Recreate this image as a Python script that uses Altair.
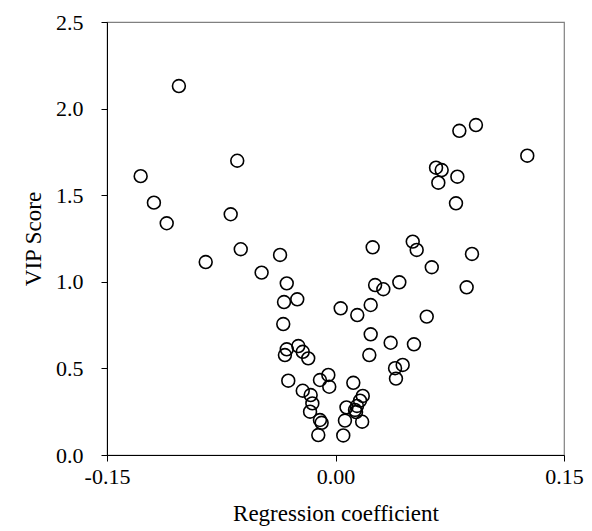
import altair as alt
import pandas as pd

reg_coef = [
    -0.1028, -0.1279, -0.1192, -0.1108, -0.0852, -0.0688, -0.0645, -0.0622, -0.0485, -0.0364,
    -0.0320, -0.0338, -0.0251, -0.0343, -0.0320, -0.0332, -0.0244, -0.0215, -0.0179, -0.0310,
    -0.0215, -0.0163, -0.0152, -0.0167, -0.0102, -0.0091, -0.0113, -0.0102, -0.0047, -0.0041,
    0.0034, 0.0051, 0.0062, 0.0072, 0.0117, 0.0128, 0.0141, 0.0143, 0.0161, 0.0179,
    0.0175, 0.0135, 0.0222, 0.0231, 0.0231, 0.0244, 0.0260, 0.0314, 0.0362, 0.0391,
    0.0397, 0.0419, 0.0441, 0.0507, 0.0515, 0.0533, 0.0599, 0.0632, 0.0660, 0.0675,
    0.0697, 0.0791, 0.0800, 0.0813, 0.0861, 0.0896, 0.0922, 0.1259,
]
vip_score = [
    2.13, 1.61, 1.457, 1.338, 1.114, 1.39, 1.699, 1.188, 1.053, 1.155,
    0.991, 0.883, 0.899, 0.756, 0.61, 0.577, 0.629, 0.596, 0.558, 0.429,
    0.371, 0.346, 0.298, 0.25, 0.202, 0.186, 0.115, 0.433, 0.462, 0.394,
    0.847, 0.113, 0.199, 0.275, 0.417, 0.26, 0.283, 0.808, 0.314, 0.341,
    0.192, 0.248, 0.577, 0.697, 0.866, 1.199, 0.981, 0.957, 0.648, 0.501,
    0.441, 0.997, 0.52, 1.232, 0.639, 1.184, 0.799, 1.084, 1.659, 1.572,
    1.645, 1.453, 1.607, 1.872, 0.968, 1.161, 1.905, 1.728,
]
x_ticks = [-0.15, 0.0, 0.15]
y_ticks = [0.0, 0.5, 1.0, 1.5, 2.0, 2.5]

df = pd.DataFrame({"coef": reg_coef, "vip": vip_score})

FONT = "Liberation Serif"
LABEL_SIZE = 22
TITLE_SIZE = 23

chart = (
    alt.Chart(df)
    .mark_point(shape="circle", filled=False, color="black", size=165, strokeWidth=1.6, opacity=1)
    .encode(
        x=alt.X(
            "coef:Q",
            scale=alt.Scale(domain=[-0.15, 0.15], nice=False, zero=False),
            axis=alt.Axis(
                values=x_ticks, format=".2f", title="Regression coefficient",
                labelExpr="replace(datum.label, '\u2212', '-')",
                grid=False, domainColor="black", tickColor="black", tickSize=6,
                labelFont=FONT, labelFontSize=LABEL_SIZE, labelColor="black", labelPadding=5,
                titleFont=FONT, titleFontSize=TITLE_SIZE, titleFontWeight="normal", titleColor="black",
                titlePadding=15, labelFlush=False,
            ),
        ),
        y=alt.Y(
            "vip:Q",
            scale=alt.Scale(domain=[0, 2.5], nice=False),
            axis=alt.Axis(
                values=y_ticks, format=".1f", title="VIP Score",
                grid=False, domainColor="black", tickColor="black", tickSize=6,
                labelFont=FONT, labelFontSize=LABEL_SIZE, labelColor="black", labelPadding=18,
                titleFont=FONT, titleFontSize=TITLE_SIZE, titleFontWeight="normal", titleColor="black",
                titlePadding=10, labelFlush=False,
            ),
        ),
    )
    .properties(
        width=457,
        height=433,
        autosize=alt.AutoSizeParams(type="none"),
        padding={"left": 99, "top": 14, "right": 20, "bottom": 72},
    )
    .configure_view(stroke="#808080", strokeWidth=1.2)
)

chart.save("out.html", embed_options={"renderer": "svg", "actions": False})
